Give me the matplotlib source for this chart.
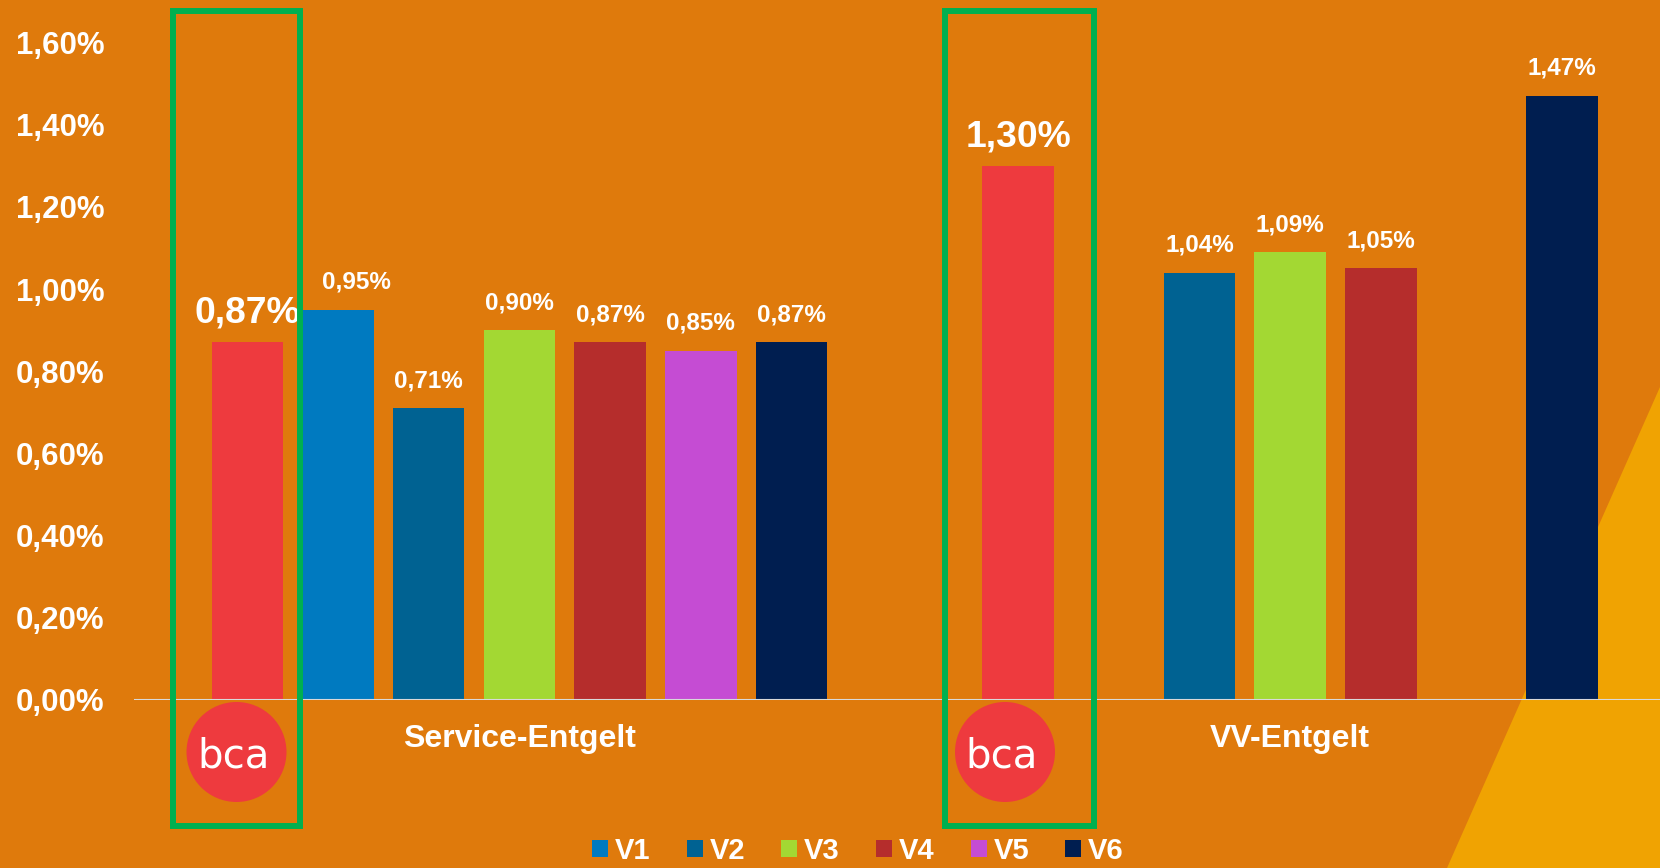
import numpy as np
import matplotlib.pyplot as plt
from matplotlib import font_manager
from matplotlib.patches import Polygon, Rectangle, Circle

# data (percent)
categories = ['Service-Entgelt', 'VV-Entgelt']
series = ['bca', 'V1', 'V2', 'V3', 'V4', 'V5', 'V6']
bca = [0.87, 1.30]
v1 = [0.95, np.nan]
v2 = [0.71, 1.04]
v3 = [0.90, 1.09]
v4 = [0.87, 1.05]
v5 = [0.85, np.nan]
v6 = [0.87, 1.47]
y_ticks = [0.0, 0.2, 0.4, 0.6, 0.8, 1.0, 1.2, 1.4, 1.6]

colors = ['#EE3A3E', '#007AC0', '#006292', '#A3D833', '#B52D2C', '#C54CD3', '#001E50']
bg = '#DF7A0C'

plt.rcParams['font.family'] = ['Liberation Sans', 'DejaVu Sans']

W, H = 1660, 868
fig = plt.figure(figsize=(W / 100, H / 100), dpi=100, facecolor=bg)
inch = fig.dpi_scale_trans


def fx(x):
    return x / 100


def fy(y):
    # pixel row from top -> inches from bottom
    return (H - y) / 100


# yellow corner in the background
fig.patches.append(Polygon([(fx(1660), fy(387)), (fx(1447), fy(868)), (fx(1660), fy(868))],
                           closed=True, facecolor='#F0A302', edgecolor='none',
                           transform=inch, zorder=-1))

ax = fig.add_axes([134 / W, (H - 700) / H, 1 - 134 / W, 698.7 / H])
ax.set_facecolor('none')

x_cat = np.array([3.0, 11.5])
values = [bca, v1, v2, v3, v4, v5, v6]
for j, (name, vals, col) in enumerate(zip(series, values, colors)):
    xs = x_cat + (j - 3)
    ax.bar(xs, vals, width=0.79, color=col, zorder=2,
           label=name if j else '_nolegend_')
    for i, (x, v) in enumerate(zip(xs, vals)):
        if np.isnan(v):
            continue
        big = j == 0
        dx = 13 if (j == 1 and i == 0) else 0  # nudged clear of the green frame
        ax.annotate(f'{v:.2f}'.replace('.', ',') + '%', (x, v),
                    xytext=(dx, 14 if big else 15), textcoords='offset points',
                    ha='center', va='baseline', fontsize=26.8 if big else 17.5,
                    fontweight='bold', color='white')

ax.axhline(0, color='#D9D9D9', lw=1.5, zorder=3)
for s in ax.spines.values():
    s.set_visible(False)

ax.set_xlim(-1.25, 15.58)
ax.set_ylim(0, 1.7)
ax.set_xticks([])
ax.set_yticks(y_ticks)
ax.set_yticklabels([f'{t:.2f}'.replace('.', ',') + '%' for t in y_ticks])
ax.tick_params(axis='y', length=0, pad=21, labelsize=22.5, labelcolor='white')
for lbl in ax.get_yticklabels():
    lbl.set_fontweight('bold')

for xc, cat in zip(x_cat, categories):
    ax.text(xc, -47 / 698.7, cat, transform=ax.get_xaxis_transform(),
            ha='center', va='baseline', fontsize=23, fontweight='bold', color='white')

# green highlight frames and bca logos
for x0, x1 in [(173, 300), (945, 1094)]:
    fig.patches.append(Rectangle((fx(x0), fy(826)), fx(x1 - x0), (826 - 11) / 100,
                                 fill=False, edgecolor='#00B050', lw=4.3,
                                 transform=inch, zorder=5))
for cx in [236.5, 1005]:
    fig.patches.append(Circle((fx(cx), fy(752)), 0.5, facecolor='#EE3A3E',
                              edgecolor='none', transform=inch, zorder=5))
    fig.text(fx(cx - 3), fy(767), 'bca', transform=inch, ha='center', va='baseline',
             fontsize=29, color='white', family='DejaVu Sans', zorder=6)

# legend: narrow bold face if available
font_names = {f.name for f in font_manager.fontManager.ttflist}
if 'Liberation Sans Narrow' in font_names:
    leg_family, leg_size, text_w = 'Liberation Sans Narrow', 25, 36
else:
    leg_family, leg_size, text_w = 'Liberation Sans', 21, 36
fpx = leg_size * 100 / 72
handles, labels = ax.get_legend_handles_labels()
fig.legend(handles, labels, loc='center', bbox_to_anchor=(858 / W, 17 / H), ncol=6,
           frameon=False, handlelength=16 / fpx, handleheight=16 / fpx,
           handletextpad=7 / fpx, columnspacing=(95 - 16 - 7 - text_w) / fpx,
           prop=dict(family=leg_family, weight='bold', size=leg_size),
           labelcolor='white', borderpad=0, borderaxespad=0)

fig.savefig('out.png', dpi=100, facecolor=fig.get_facecolor())
